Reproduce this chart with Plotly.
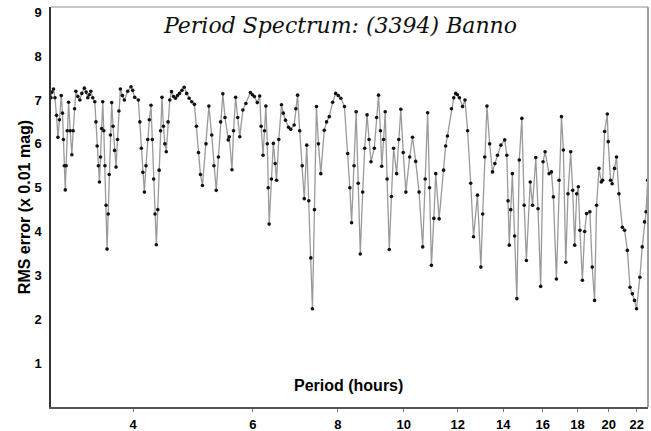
import math
import plotly.graph_objects as go

# Period (hours) and RMS error (x 0.01 mag)
period = [
    3.030, 3.040, 3.056, 3.071, 3.087, 3.102, 3.118, 3.137, 3.150, 3.160,
    3.170, 3.180, 3.189, 3.201, 3.216, 3.233, 3.252, 3.266, 3.282, 3.296,
    3.318, 3.341, 3.363, 3.392, 3.413, 3.432, 3.449, 3.467, 3.490, 3.514,
    3.528, 3.542, 3.557, 3.570, 3.583, 3.596, 3.610, 3.623, 3.637, 3.651,
    3.663, 3.677, 3.690, 3.705, 3.721, 3.738, 3.757, 3.776, 3.795, 3.813,
    3.832, 3.858, 3.884, 3.928, 3.972, 3.995, 4.022, 4.072, 4.093, 4.114,
    4.135, 4.156, 4.179, 4.203, 4.226, 4.250, 4.269, 4.288, 4.308, 4.328,
    4.349, 4.369, 4.390, 4.411, 4.433, 4.454, 4.476, 4.503, 4.529, 4.556,
    4.587, 4.618, 4.649, 4.681, 4.720, 4.755, 4.796, 4.836, 4.879, 4.923,
    4.957, 4.991, 5.025, 5.059,
    5.12, 5.17, 5.22, 5.26, 5.30, 5.34, 5.38, 5.42, 5.46, 5.52,
    5.54, 5.59, 5.62, 5.66, 5.70, 5.74, 5.80, 5.86, 5.95, 5.99,
    6.03, 6.09, 6.14, 6.17, 6.21, 6.24, 6.27, 6.30, 6.32, 6.34,
    6.39, 6.43, 6.47, 6.50, 6.55, 6.61, 6.65, 6.70, 6.77, 6.82,
    6.90, 6.94, 6.98, 7.03, 7.09, 7.14, 7.20, 7.25, 7.30, 7.34,
    7.39, 7.44, 7.49, 7.55, 7.64, 7.70, 7.77, 7.86, 7.94, 8.01,
    8.08, 8.18, 8.27, 8.33, 8.38, 8.45, 8.51, 8.57, 8.63, 8.70,
    8.76, 8.83, 8.89, 8.95, 9.05, 9.12, 9.18, 9.24, 9.28, 9.34,
    9.39, 9.45, 9.52, 9.59, 9.66, 9.76, 9.83, 9.90, 9.98, 10.07,
    10.20, 10.30, 10.41, 10.53, 10.66, 10.75, 10.84, 10.91, 10.98, 11.07,
    11.14, 11.27, 11.44, 11.52, 11.59, 11.75, 11.84, 11.92, 11.99, 12.07,
    12.20, 12.30, 12.41, 12.54, 12.66, 12.83, 12.98, 13.06, 13.15, 13.25,
    13.37, 13.50, 13.61, 13.73, 13.89,
    14.07, 14.17, 14.23, 14.29, 14.36, 14.44, 14.55, 14.66, 14.78, 14.91,
    15.03, 15.14, 15.34, 15.46, 15.63, 15.75, 15.89, 16.02, 16.13, 16.35,
    16.48, 16.59, 16.76, 16.91, 17.05, 17.16, 17.30, 17.43, 17.59, 17.71,
    17.83, 17.95, 18.05, 18.15, 18.30, 18.44, 18.56, 18.77, 18.92, 19.07,
    19.20, 19.36, 19.51, 19.60, 19.73, 19.91, 19.97, 20.13, 20.24, 20.40,
    20.54, 20.71, 20.95, 21.11, 21.31, 21.50, 21.67, 21.83, 21.98, 22.23,
    22.41, 22.58, 22.70, 22.82,
]
rms = [
    7.05, 7.18, 7.25, 7.05, 6.65, 6.15, 6.55, 7.10, 6.70, 6.10,
    5.50, 4.95, 5.50, 6.30, 6.95, 6.30, 5.75, 6.30, 6.80, 7.20,
    7.08, 7.00, 7.15, 7.27, 7.18, 7.05, 7.12, 7.20, 7.05, 6.96,
    6.50, 5.95, 5.50, 5.13, 5.70, 6.35, 6.96, 6.30, 5.50, 4.60,
    3.60, 4.40, 5.30, 6.20, 6.94, 6.40, 5.85, 5.47, 6.10, 6.75,
    7.25, 7.10, 7.00, 7.20, 7.30, 7.22, 7.06, 7.00, 6.50, 5.90,
    5.35, 4.90, 5.50, 6.10, 6.55, 6.88, 6.10, 5.20, 4.40, 3.70,
    4.50, 5.40, 6.30, 7.06, 6.40, 6.00, 5.82, 6.50, 7.00, 7.19,
    7.08, 7.04, 7.10, 7.15, 7.22, 7.29, 7.15, 7.04, 6.96, 6.90,
    6.40, 5.80, 5.30, 5.05,
    6.00, 6.86, 6.20, 5.50, 4.94, 5.70, 6.50, 7.14, 6.60, 6.09,
    6.16, 5.41, 6.30, 7.06, 6.60, 6.16, 6.77, 6.92, 7.17, 7.12,
    7.08, 6.94, 7.09, 6.40, 5.74, 6.30, 6.86, 6.00, 5.00, 4.17,
    5.20, 6.01, 5.55, 5.17, 6.10, 6.89, 6.70, 6.54, 6.38, 6.33,
    6.43, 6.80, 7.11, 6.30, 5.50, 4.75, 5.97, 4.70, 3.40, 2.24,
    4.50, 6.85, 6.00, 5.32, 6.31, 6.50, 6.62, 6.95, 7.15, 7.10,
    7.04, 6.85, 5.78, 5.00, 4.20, 5.50, 6.73, 5.10, 3.49, 4.90,
    5.90, 6.66, 6.10, 5.59, 5.90, 6.60, 7.11, 6.30, 5.49, 6.10,
    6.73, 5.20, 3.59, 4.80, 5.90, 5.32, 6.10, 6.79, 5.80, 4.90,
    5.70, 6.15, 5.60, 4.90, 3.65, 5.20, 6.71, 5.00, 3.23, 4.30,
    5.32, 4.29, 5.40, 5.95, 6.18, 6.80, 7.05, 7.15, 7.12, 7.05,
    6.85, 7.00, 6.30, 5.10, 3.88, 4.83, 3.19, 4.40, 5.70, 6.86,
    6.00, 5.36, 5.55, 5.74, 5.97,
    6.09, 5.74, 4.70, 3.69, 4.50, 5.32, 3.90, 2.47, 5.63, 6.58,
    4.60, 3.34, 5.13, 4.60, 5.69, 4.52, 2.75, 5.59, 5.82, 5.32,
    5.36, 4.79, 2.92, 5.17, 6.62, 5.86, 3.30, 4.86, 5.82, 4.94,
    3.69, 4.86, 5.02, 4.03, 2.89, 4.00, 4.41, 4.45, 3.19, 2.43,
    4.60, 5.44, 5.13, 5.17, 6.28, 6.68, 6.05, 5.17, 5.09, 5.44,
    5.70, 4.86, 4.10, 4.03, 3.57, 2.73, 2.58, 2.43, 2.24, 2.96,
    3.65, 4.22, 4.45, 5.17,
]

x_ticks = [4, 6, 8, 10, 12, 14, 16, 18, 20, 22]
y_ticks = [1, 2, 3, 4, 5, 6, 7, 8, 9]

title_text = "Period Spectrum: (3394) Banno"
x_title = "Period (hours)"
y_title = "RMS error (x 0.01 mag)"

x_min, x_max = 3.03, 22.85
y_min, y_max = 0, 9.12

bold = dict(family="Liberation Sans, Arial, sans-serif", color="black", weight="bold")

fig = go.Figure()
fig.add_trace(go.Scatter(
    x=period, y=rms, mode="lines+markers",
    line=dict(color="#9a9a9a", width=1.3),
    marker=dict(color="#111111", size=3.6),
    hoverinfo="x+y", showlegend=False,
))

fig.update_layout(
    width=651, height=431,
    margin=dict(l=51, r=3, t=7, b=24, autoexpand=False),
    paper_bgcolor="white", plot_bgcolor="white",
    xaxis=dict(
        type="log", range=[math.log10(x_min), math.log10(x_max)],
        tickvals=x_ticks, ticktext=[str(t) for t in x_ticks],
        showgrid=False, zeroline=False, automargin=False,
        showline=True, linecolor="#555555", linewidth=2,
        ticks="outside", ticklen=3, tickwidth=1, tickcolor="#777777",
        tickfont=dict(size=13, **bold), ticklabelstandoff=1,
    ),
    yaxis=dict(
        range=[y_min, y_max], tickvals=y_ticks,
        showgrid=False, zeroline=False, automargin=False,
        showline=True, linecolor="#333333", linewidth=1.5,
        ticks="", tickfont=dict(size=13, **bold), ticklabelstandoff=5,
    ),
    shapes=[
        dict(type="line", xref="paper", yref="paper", x0=0, x1=1, y0=1, y1=1,
             line=dict(color="#b5b5b5", width=1.5)),
        dict(type="line", xref="paper", yref="paper", x0=1, x1=1, y0=0, y1=1,
             line=dict(color="#a0a0a0", width=2)),
    ],
    annotations=[
        dict(text=title_text, xref="paper", yref="paper", x=0.484, y=0.955,
             xanchor="center", yanchor="middle", showarrow=False,
             font=dict(family="DejaVu Serif, serif", size=22, color="#111111", style="italic")),
        dict(text=x_title, xref="paper", yref="paper", x=0.499, y=0.055,
             xanchor="center", yanchor="middle", showarrow=False,
             font=dict(size=16, **bold)),
        dict(text=y_title, xref="paper", yref="paper", x=-0.045, y=0.5,
             xanchor="center", yanchor="middle", showarrow=False, textangle=-90,
             font=dict(size=16, **bold)),
    ],
)

fig.write_html(
    "out.html",
    config={"displayModeBar": False},
    post_script="document.body.style.margin='0';document.body.style.overflow='hidden';",
)
